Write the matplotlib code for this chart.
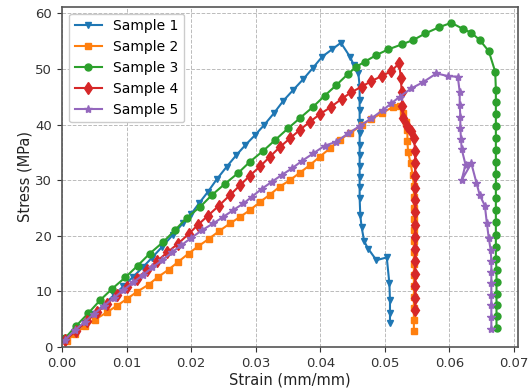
import matplotlib
matplotlib.use("Agg")
import matplotlib.pyplot as plt

# Sample 1
s1_x = [0.0005, 0.0020, 0.0035, 0.0050, 0.0065, 0.0080, 0.0095, 0.0110, 0.0125, 0.0139,
        0.0155, 0.0172, 0.0187, 0.0200, 0.0212, 0.0226, 0.0240, 0.0255, 0.0270, 0.0284,
        0.0299, 0.0313, 0.0328, 0.0343, 0.0358, 0.0374, 0.0388, 0.0403, 0.0418, 0.0432,
        0.0446, 0.0452, 0.0459, 0.0461, 0.0461, 0.0461, 0.0461, 0.0461, 0.0461, 0.0461,
        0.0461, 0.0461, 0.0461, 0.0461, 0.0462, 0.0464, 0.0468, 0.0474, 0.0487, 0.0503,
        0.0507, 0.0508, 0.0508, 0.0508]
s1_y = [1.0, 2.6, 4.3, 6.0, 7.6, 9.3, 10.9, 12.6, 14.3, 16.0,
        18.0, 20.2, 22.2, 23.9, 25.8, 27.9, 30.2, 32.4, 34.5, 36.3,
        38.1, 39.9, 42.0, 44.3, 46.2, 48.2, 50.1, 52.2, 53.5, 54.7,
        52.2, 50.7, 49.3, 46.8, 44.4, 42.6, 40.5, 38.5, 36.4, 34.5,
        32.6, 30.6, 28.7, 26.8, 23.7, 21.6, 19.0, 17.7, 15.6, 16.1,
        11.5, 8.5, 6.1, 4.3]

# Sample 2
s2_x = [0.0007, 0.0020, 0.0036, 0.0051, 0.0069, 0.0085, 0.0100, 0.0116, 0.0134, 0.0149,
        0.0165, 0.0180, 0.0196, 0.0211, 0.0227, 0.0243, 0.0260, 0.0276, 0.0291, 0.0307,
        0.0322, 0.0337, 0.0353, 0.0368, 0.0384, 0.0399, 0.0415, 0.0430, 0.0446, 0.0464,
        0.0479, 0.0495, 0.0513, 0.0523, 0.0528, 0.0533, 0.0535, 0.0535, 0.0536, 0.0540,
        0.0543, 0.0545, 0.0545, 0.0545, 0.0545, 0.0545, 0.0545, 0.0545, 0.0545, 0.0545,
        0.0545, 0.0545, 0.0545, 0.0545, 0.0545]
s2_y = [1.0, 2.4, 3.7, 4.9, 6.2, 7.4, 8.6, 9.9, 11.2, 12.6,
        13.9, 15.3, 16.8, 18.1, 19.4, 20.8, 22.2, 23.4, 24.6, 26.1,
        27.4, 28.8, 30.0, 31.3, 32.7, 34.2, 35.7, 37.3, 38.4, 39.9,
        41.0, 42.0, 43.2, 43.4, 42.0, 40.5, 39.0, 37.0, 35.1, 33.0,
        31.0, 29.0, 27.0, 25.0, 23.0, 21.0, 19.0, 17.0, 15.0, 13.0,
        11.0, 9.0, 7.0, 4.8, 2.8]

# Sample 3
s3_x = [0.0005, 0.0022, 0.0041, 0.0059, 0.0078, 0.0098, 0.0117, 0.0136, 0.0157, 0.0175,
        0.0193, 0.0214, 0.0232, 0.0252, 0.0273, 0.0291, 0.0312, 0.0330, 0.0350, 0.0368,
        0.0389, 0.0407, 0.0425, 0.0443, 0.0456, 0.0469, 0.0487, 0.0505, 0.0526, 0.0544,
        0.0563, 0.0584, 0.0603, 0.0621, 0.0634, 0.0647, 0.0661, 0.0671, 0.0672, 0.0672,
        0.0672, 0.0672, 0.0672, 0.0672, 0.0672, 0.0672, 0.0672, 0.0672, 0.0672, 0.0672,
        0.0672, 0.0672, 0.0672, 0.0673, 0.0673, 0.0673, 0.0673, 0.0673, 0.0673]
s3_y = [1.6, 3.8, 6.1, 8.4, 10.5, 12.5, 14.6, 16.8, 18.9, 21.0,
        23.2, 25.2, 27.3, 29.3, 31.3, 33.3, 35.3, 37.2, 39.3, 41.1,
        43.2, 45.2, 47.1, 49.1, 50.4, 51.3, 52.5, 53.5, 54.4, 55.2,
        56.4, 57.5, 58.3, 57.2, 56.5, 55.2, 53.2, 49.5, 46.3, 44.1,
        41.9, 39.8, 37.6, 35.5, 33.3, 31.1, 28.9, 26.7, 24.6, 22.4,
        20.2, 18.0, 15.9, 13.8, 11.7, 9.6, 7.5, 5.5, 3.4]

# Sample 4
s4_x = [0.0005, 0.0022, 0.0038, 0.0054, 0.0070, 0.0085, 0.0101, 0.0116, 0.0132, 0.0147,
        0.0163, 0.0180, 0.0196, 0.0211, 0.0226, 0.0243, 0.0260, 0.0276, 0.0291, 0.0307,
        0.0322, 0.0337, 0.0353, 0.0368, 0.0384, 0.0400, 0.0417, 0.0433, 0.0448, 0.0464,
        0.0479, 0.0495, 0.0510, 0.0522, 0.0525, 0.0526, 0.0527, 0.0528, 0.0535, 0.0541,
        0.0545, 0.0547, 0.0547, 0.0547, 0.0547, 0.0547, 0.0547, 0.0547, 0.0547, 0.0547,
        0.0547, 0.0547, 0.0547, 0.0547, 0.0547]
s4_y = [1.2, 2.9, 4.6, 6.2, 7.8, 9.3, 10.8, 12.3, 13.9, 15.4,
        17.0, 18.6, 20.3, 22.0, 23.6, 25.4, 27.3, 29.1, 30.8, 32.5,
        34.2, 35.9, 37.5, 39.0, 40.5, 41.9, 43.2, 44.6, 45.8, 46.8,
        47.8, 48.7, 49.6, 51.0, 48.3, 45.8, 43.4, 41.2, 39.8, 38.9,
        37.6, 35.3, 33.0, 30.8, 28.6, 26.4, 24.2, 22.0, 19.8, 17.6,
        15.4, 13.2, 11.0, 8.8, 6.7]

# Sample 5
s5_x = [0.0005, 0.0020, 0.0035, 0.0050, 0.0065, 0.0080, 0.0095, 0.0110, 0.0125, 0.0140,
        0.0155, 0.0170, 0.0185, 0.0200, 0.0217, 0.0234, 0.0250, 0.0265, 0.0281, 0.0294,
        0.0309, 0.0325, 0.0340, 0.0356, 0.0371, 0.0389, 0.0407, 0.0425, 0.0443, 0.0461,
        0.0479, 0.0497, 0.0510, 0.0523, 0.0541, 0.0559, 0.0580, 0.0598, 0.0613, 0.0616,
        0.0616, 0.0617, 0.0617, 0.0618, 0.0619, 0.0625, 0.0619, 0.0634, 0.0642, 0.0647,
        0.0655, 0.0658, 0.0661, 0.0664, 0.0665, 0.0665, 0.0665, 0.0665, 0.0665, 0.0665,
        0.0665]
s5_y = [1.3, 3.0, 4.5, 6.0, 7.4, 8.8, 10.2, 11.6, 12.9, 14.3,
        15.6, 17.0, 18.3, 19.6, 21.0, 22.2, 23.4, 24.6, 25.8, 27.0,
        28.4, 29.7, 30.9, 32.1, 33.4, 34.8, 36.2, 36.9, 38.4, 39.7,
        41.1, 42.6, 43.8, 45.0, 46.5, 47.6, 49.2, 48.7, 48.6, 45.9,
        43.6, 41.4, 39.3, 37.4, 35.6, 32.8, 30.0, 33.0, 29.5, 27.3,
        25.4, 22.3, 19.6, 17.4, 15.5, 13.5, 11.5, 9.4, 7.5, 5.4,
        3.2]

labels = ["Sample 1", "Sample 2", "Sample 3", "Sample 4", "Sample 5"]
series = [(s1_x, s1_y), (s2_x, s2_y), (s3_x, s3_y), (s4_x, s4_y), (s5_x, s5_y)]
markers = ["v", "s", "o", "d", "*"]
colors = ["#1f77b4", "#ff7f0e", "#2ca02c", "#d62728", "#9467bd"]

fig = plt.figure(figsize=(5.3, 3.92), dpi=100)
ax = fig.add_axes([0.117, 0.115, 0.860, 0.868])
for (x, y), lab, m, c in zip(series, labels, markers, colors):
    ms = 6 if m in ("*", "d") else 5
    ax.plot(x, y, marker=m, color=c, label=lab, lw=1.5, ms=ms)

ax.set_xlim(0, 0.0706)
ax.set_ylim(0, 61.2)
ax.set_xticks([0.00, 0.01, 0.02, 0.03, 0.04, 0.05, 0.06, 0.07])
ax.set_xticklabels(["0.00", "0.01", "0.02", "0.03", "0.04", "0.05", "0.06", "0.07"])
ax.set_yticks([0, 10, 20, 30, 40, 50, 60])
ax.tick_params(labelsize=9.5, colors="#333333")
ax.grid(True, linestyle="--", color="#bbbbbb", linewidth=0.7)
for sp in ax.spines.values():
    sp.set_color("#555555")
    sp.set_linewidth(1.2)
ax.set_xlabel("Strain (mm/mm)", fontsize=10.5, color="#222222", labelpad=2)
ax.set_ylabel("Stress (MPa)", fontsize=10.5, color="#222222", labelpad=2)
ax.legend(loc="upper left", fontsize=10, framealpha=1.0, edgecolor="#cccccc")
fig.savefig("out.png", dpi=100)
